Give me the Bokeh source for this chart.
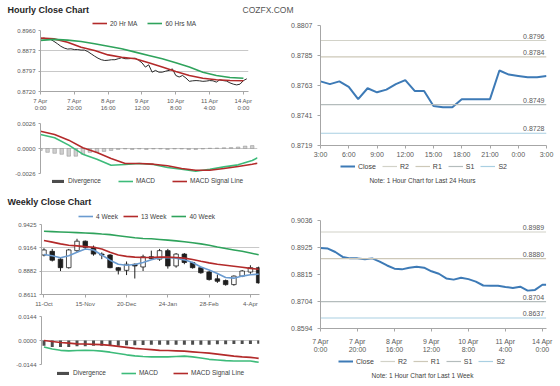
from bokeh.plotting import figure
from bokeh.models import Range1d, FixedTicker, Legend, LegendItem, Label
from bokeh.layouts import column, row
from bokeh.embed import file_html
from bokeh.resources import INLINE

FONT = "Liberation Sans"

# ---------------- DATA ----------------
# Hourly close chart (last week); x = trading hours since 7 Apr 0:00
hw_hours = list(range(0, 123, 2))
hw_close = [0.8927, 0.8930, 0.8927, 0.8925, 0.8917, 0.8908, 0.8898, 0.8891, 0.8887, 0.8888,
            0.8885, 0.8885, 0.8883, 0.8883, 0.8877, 0.8868, 0.8859, 0.8851, 0.8845, 0.8842,
            0.8843, 0.8845, 0.8845, 0.8849, 0.8853, 0.8849, 0.8849, 0.8850, 0.8851, 0.8843,
            0.8833, 0.8816, 0.8825, 0.8796, 0.8803, 0.8796, 0.8796, 0.8800, 0.8803, 0.8809,
            0.8783, 0.8777, 0.8783, 0.8773, 0.8760, 0.8762, 0.8763, 0.8762, 0.8760, 0.8761,
            0.8763, 0.8762, 0.8757, 0.8766, 0.8763, 0.8761, 0.8754, 0.8749, 0.8746, 0.8749,
            0.8763, 0.8770]
hw_ma_hours = [0, 8, 16, 24, 32, 40, 48, 56, 64, 72, 80, 88, 96, 104, 112, 120]
hw_ma20 = [0.8930, 0.8927, 0.8914, 0.8894, 0.8881, 0.8864, 0.8855, 0.8849, 0.8833, 0.8816,
           0.8799, 0.8783, 0.8772, 0.8766, 0.8763, 0.8762]
hw_ma60 = [0.8921, 0.8925, 0.8922, 0.8917, 0.8908, 0.8898, 0.8888, 0.8875, 0.8862, 0.8849,
           0.8833, 0.8816, 0.8796, 0.8783, 0.8775, 0.8772]
hw_x_ticks = [0, 20, 40, 60, 80, 100, 120]
hw_x_labels = ["7 Apr\n0:00", "7 Apr\n20:00", "8 Apr\n16:00", "9 Apr\n12:00",
               "10 Apr\n8:00", "11 Apr\n4:00", "14 Apr\n0:00"]
hw_y_ticks = [0.872, 0.88, 0.888, 0.896]
hw_y_labels = ["0.8720", "0.8797", "0.8873", "0.8960"]

# Hourly MACD
hm_hours = [0, 8, 16, 24, 32, 40, 48, 56, 64, 72, 80, 88, 96, 104, 112, 120, 123]
hm_macd = [0.00146, 0.00111, 0.00035, -0.00059, -0.00111, -0.00174, -0.00167, -0.00156, -0.00167,
           -0.00198, -0.00215, -0.00236, -0.00215, -0.00191, -0.00170, -0.00125, -0.00097]
hm_signal = [0.00180, 0.00146, 0.00087, 0.00007, -0.00042, -0.00104, -0.00156, -0.00156, -0.00163,
             -0.00180, -0.00208, -0.00226, -0.00226, -0.00208, -0.00187, -0.00163, -0.00153]
hm_div_hours = list(range(0, 121, 4))
hm_div = [-0.0002, -0.0004, -0.0005, -0.0006, -0.0008, -0.0008, -0.0006, -0.0004, -0.0004, -0.0003,
          -0.0002, -0.0001, -0.00005, -0.0001, -0.00005, -0.0001, -0.00005, -0.00005, -0.0001, -0.00005,
          -0.00005, -0.0001, -0.0001, -0.00005, 0.00003, 0.00005, 0.00008, 0.0001, 0.00015, 0.00025, 0.0003]
hm_y_ticks = [-0.0026, 0, 0.0026]
hm_y_labels = ["-0.0026", "0.0000", "0.0026"]

# Last 24 hours (1 hour chart)
d1_hours = list(range(25))
d1_close = [0.8766, 0.8764, 0.8766, 0.8762, 0.8753, 0.8761, 0.8758, 0.8760, 0.8764, 0.8767,
            0.8759, 0.8759, 0.8748, 0.8747, 0.8747, 0.8753, 0.8753, 0.8753, 0.8753, 0.8774,
            0.8771, 0.8770, 0.8769, 0.8769, 0.8770]
d1_x_ticks = [0, 3, 6, 9, 12, 15, 18, 21, 24]
d1_x_labels = ["3:00", "6:00", "9:00", "12:00", "15:00", "18:00", "21:00", "0:00", "3:00"]
d1_y_ticks = [0.8719, 0.8741, 0.8763, 0.8785, 0.8807]
level_names = ["R2", "R1", "S1", "S2"]
d1_levels = [0.8796, 0.8784, 0.8749, 0.8728]

# Weekly close chart (27 weeks)
wk_idx = list(range(27))
wk_open = [0.9070, 0.9113, 0.9022, 0.8923, 0.9121, 0.9231, 0.9160, 0.9081, 0.9070, 0.8923,
           0.8892, 0.8963, 0.8931, 0.9050, 0.9022, 0.9121, 0.8943, 0.9081, 0.8983, 0.8923,
           0.8872, 0.8793, 0.8773, 0.8726, 0.8825, 0.8872, 0.8923]
wk_close = [0.9129, 0.9010, 0.8923, 0.9129, 0.9231, 0.9160, 0.9081, 0.9070, 0.8923, 0.8892,
            0.8963, 0.8943, 0.9050, 0.9030, 0.9121, 0.8943, 0.9081, 0.8983, 0.8923, 0.8864,
            0.8785, 0.8765, 0.8726, 0.8825, 0.8884, 0.8923, 0.8746]
wk_high = [0.9149, 0.9141, 0.9034, 0.9141, 0.9259, 0.9239, 0.9180, 0.9101, 0.9081, 0.8931,
           0.8995, 0.8971, 0.9074, 0.9121, 0.9141, 0.9141, 0.9093, 0.9093, 0.8991, 0.8935,
           0.8884, 0.8844, 0.8785, 0.8833, 0.8896, 0.8951, 0.8935]
wk_low = [0.9054, 0.8995, 0.8884, 0.8912, 0.9101, 0.9141, 0.9062, 0.9022, 0.8916, 0.8844,
          0.8837, 0.8797, 0.8884, 0.9022, 0.9002, 0.8912, 0.8923, 0.8963, 0.8912, 0.8852,
          0.8773, 0.8746, 0.8714, 0.8714, 0.8813, 0.8852, 0.8738]
wk_ma4 = [0.9077, 0.9062, 0.9038, 0.9062, 0.9101, 0.9141, 0.9129, 0.9070, 0.9010, 0.8963,
          0.8951, 0.8959, 0.8983, 0.9014, 0.9038, 0.9042, 0.9034, 0.9014, 0.8983, 0.8931,
          0.8896, 0.8856, 0.8809, 0.8801, 0.8825, 0.8840, 0.8848]
wk_ma13 = [0.9239, 0.9220, 0.9200, 0.9184, 0.9176, 0.9168, 0.9160, 0.9141, 0.9101, 0.9070,
           0.9054, 0.9046, 0.9042, 0.9042, 0.9046, 0.9046, 0.9042, 0.9034, 0.9018, 0.8998,
           0.8979, 0.8963, 0.8951, 0.8939, 0.8927, 0.8915, 0.8904]
wk_ma40 = [0.9346, 0.9342, 0.9338, 0.9334, 0.9330, 0.9326, 0.9322, 0.9314, 0.9307, 0.9295,
           0.9283, 0.9271, 0.9263, 0.9259, 0.9251, 0.9243, 0.9235, 0.9224, 0.9212, 0.9200,
           0.9184, 0.9164, 0.9145, 0.9129, 0.9113, 0.9093, 0.9073]
wk_x_ticks = [0, 5, 10, 15, 20, 25]
wk_x_labels = ["11-Oct", "15-Nov", "20-Dec", "24-Jan", "28-Feb", "4-Apr"]
wk_y_ticks = [0.8611, 0.88823, 0.91537, 0.9425]
wk_y_labels = ["0.8611", "0.8882", "0.9164", "0.9425"]

# Weekly MACD
wk_macd = [-0.0039, -0.0051, -0.0059, -0.0062, -0.0060, -0.0059, -0.0060, -0.0064, -0.0070, -0.0078,
           -0.0086, -0.0092, -0.0096, -0.0098, -0.0098, -0.0098, -0.0096, -0.0094, -0.0098, -0.0105,
           -0.0113, -0.0117, -0.0121, -0.0123, -0.0123, -0.0123, -0.0131]
wk_signal = [0.0000, -0.0006, -0.0012, -0.0016, -0.0020, -0.0021, -0.0023, -0.0025, -0.0029, -0.0035,
             -0.0041, -0.0047, -0.0051, -0.0055, -0.0059, -0.0060, -0.0062, -0.0064, -0.0068, -0.0072,
             -0.0076, -0.0082, -0.0088, -0.0094, -0.0098, -0.0101, -0.0107]
wk_div = [-0.0031, -0.0039, -0.0039, -0.0039, -0.0035, -0.0035, -0.0031, -0.0031, -0.0031, -0.0031,
          -0.0029, -0.0029, -0.0027, -0.0025, -0.0025, -0.0025, -0.0025, -0.0025, -0.0025, -0.0025,
          -0.0025, -0.0023, -0.0023, -0.0021, -0.0021, -0.0021, -0.0020]
wm_y_ticks = [-0.0144, 0, 0.0144]
wm_y_labels = ["-0.0144", "0.0000", "0.0144"]

# Last week (1 hour chart)
w1_hours = [0, 4, 8, 12, 16, 20, 24, 28, 32, 36, 40, 44, 48, 52, 56, 60, 64, 68, 72, 76, 80,
            84, 88, 92, 96, 100, 104, 108, 112, 116, 120, 122]
w1_close = [0.8923, 0.8921, 0.8907, 0.8887, 0.8881, 0.8881, 0.8877, 0.8881, 0.8868, 0.8852,
            0.8839, 0.8836, 0.8843, 0.8847, 0.8843, 0.8828, 0.8818, 0.8799, 0.8794, 0.8802,
            0.8796, 0.8786, 0.8770, 0.8769, 0.8769, 0.8764, 0.8760, 0.8765, 0.8749, 0.8752,
            0.8773, 0.8773]
w1_y_ticks = [0.8594, 0.8704, 0.8815, 0.8925, 0.9036]
w1_levels = [0.8989, 0.8880, 0.8704, 0.8637]

# ---------------- STYLE ----------------
LEVEL_COLORS = ["#d2d2c8", "#cdc8b8", "#b4bcbc", "#a9cfe2"]
C_RED = "#b32a2a"
C_GREEN = "#2fa35c"
C_MACD = "#3dbb7a"
C_BLUE = "#3d7ab6"
C_WBLUE = "#6a9bd0"
C_DIV = "#4d4d4d"
AX = "#a6a6a6"
TXT = "#595959"
LW = 270   # left column width
RW = 286   # right column width


def mkfig(w, h, xr, yr, left, right, top, bottom, xaxis=True):
    p = figure(width=w, height=h, x_range=Range1d(*xr), y_range=Range1d(*yr),
               output_backend="svg", toolbar_location=None, title=None,
               x_axis_location="below" if xaxis else None,
               min_border_left=left, min_border_right=right,
               min_border_top=top, min_border_bottom=bottom)
    p.outline_line_color = None
    p.background_fill_color = "white"
    p.border_fill_color = "white"
    p.xgrid.visible = False
    p.ygrid.grid_line_color = "#c8c8c8"
    return p


def style_axis(ax, fs, ticks, labels, standoff, tick_out=3):
    ax.ticker = FixedTicker(ticks=ticks)
    ax.major_label_overrides = {t: l for t, l in zip(ticks, labels)}
    ax.axis_line_color = AX
    ax.major_tick_line_color = AX
    ax.minor_tick_line_color = None
    ax.major_tick_in = 0
    ax.major_tick_out = tick_out
    ax.major_label_text_font = FONT
    ax.major_label_text_font_size = fs
    ax.major_label_text_color = TXT
    ax.major_label_standoff = standoff


def text_fig(w, h):
    p = figure(width=w, height=h, x_range=Range1d(0, w), y_range=Range1d(0, h),
               output_backend="svg", toolbar_location=None, title=None,
               x_axis_location=None, y_axis_location=None, min_border=0)
    p.grid.visible = False
    p.outline_line_color = None
    p.background_fill_color = "white"
    p.border_fill_color = "white"
    return p


def legend_strip(w, h, specs, x, cy, fs, spacing):
    """A strip holding a horizontal legend; specs = (label, kind, colour).
    The key glyphs are legend proxies placed outside the strip's visible ranges."""
    s = text_fig(w, h)
    items = []
    for lab, kind, col in specs:
        if kind == "bar":
            r = s.vbar(x=[-50], top=[-50], bottom=[-60], width=1, fill_color=col, line_color=None)
        else:
            r = s.line([-60, -50], [-50, -50], line_color=col, line_width=kind)
        items.append(LegendItem(label=lab, renderers=[r]))
    lg = Legend(items=items, location=(x, h - cy - 4), orientation="horizontal",
                label_text_font=FONT, label_text_font_size=fs, label_text_color="#404040",
                glyph_width=15, glyph_height=4, label_height=8, label_width=0,
                label_standoff=3, spacing=spacing, padding=0, margin=0,
                border_line_color=None, background_fill_alpha=0)
    s.add_layout(lg, "center")
    return s


def sep_fig(w):
    p = figure(width=w, height=2, x_range=Range1d(0, 1), y_range=Range1d(0, 1),
               output_backend="svg", toolbar_location=None, title=None,
               x_axis_location=None, y_axis_location=None, min_border=0)
    p.grid.visible = False
    p.outline_line_color = None
    p.background_fill_color = "#cfcfcf"
    p.border_fill_color = "#cfcfcf"
    return p


# ---------------- HEADER 1 ----------------
h1 = text_fig(LW + RW, 16)
h1.add_layout(Label(x=7, y=6.5, text="Hourly Close Chart", text_font=FONT, text_font_size="9px",
                    text_font_style="bold", text_color="#262626", text_baseline="middle"))
h1.add_layout(Label(x=242, y=6.5, text="COZFX.COM", text_font=FONT, text_font_size="8.5px",
                    text_color="#555555", text_baseline="middle"))

# ---------------- HOURLY PRICE ----------------
hp_leg = legend_strip(LW, 11, [("20 Hr MA", 1.6, C_RED), ("60 Hrs MA", 1.6, C_GREEN)],
                      92, 7, "6.5px", 10)
hp = mkfig(LW, 87, (0, 123), (0.872, 0.896), 40, 22, 3, 23)
style_axis(hp.xaxis[0], "6px", hw_x_ticks, hw_x_labels, 3)
style_axis(hp.yaxis[0], "6px", hw_y_ticks, hw_y_labels, 3, 2)
hp.line(hw_hours, hw_close, line_color="#2b2b2b", line_width=1)
hp.line(hw_ma_hours, hw_ma20, line_color=C_RED, line_width=1.6)
hp.line(hw_ma_hours, hw_ma60, line_color=C_GREEN, line_width=1.6)

# ---------------- HOURLY MACD ----------------
hm = mkfig(LW, 62, (0, 123), (-0.0026, 0.0026), 40, 13, 9, 3, xaxis=False)
style_axis(hm.yaxis[0], "6px", hm_y_ticks, hm_y_labels, 3, 2)
hm.vbar(x=hm_div_hours, top=hm_div, bottom=0, width=2.0, fill_color="#d0d0d0",
        line_color="#8c8c8c", line_width=0.5)
hm.line(hm_hours, hm_macd, line_color=C_MACD, line_width=1.6)
hm.line(hm_hours, hm_signal, line_color=C_RED, line_width=1.6)
hm_leg = legend_strip(LW, 17, [("Divergence", "bar", C_DIV), ("MACD", 1.6, C_MACD),
                               ("MACD Signal Line", 1.6, C_RED)], 50, 4.5, "6.5px", 17)

# ---------------- LAST 24 HOURS ----------------
r1 = mkfig(RW, 144, (0, 24), (0.8719, 0.8807), 50, 10, 9, 15)
r1.ygrid.visible = False
style_axis(r1.xaxis[0], "7px", d1_x_ticks, d1_x_labels, 2)
style_axis(r1.yaxis[0], "7px", d1_y_ticks, [f"{t:.4f}" for t in d1_y_ticks], 5)
r1.line(d1_hours, d1_close, line_color=C_BLUE, line_width=2)
for lv, col in zip(d1_levels, LEVEL_COLORS):
    r1.line([d1_hours[0], d1_hours[-1]], [lv, lv], line_color=col, line_width=1.2)
    r1.add_layout(Label(x=d1_hours[-1], y=lv, text=f"{lv:.4f}", x_offset=-2, y_offset=2,
                        text_align="right", text_baseline="bottom", text_font=FONT,
                        text_font_size="7px", text_color=TXT))
r1_leg = legend_strip(RW, 33, [("Close", 2, C_BLUE)] +
                      [(n, 1.2, c) for n, c in zip(level_names, LEVEL_COLORS)],
                      70, 6, "7px", 6)
r1_leg.add_layout(Label(x=152, y=33 - 20, text="Note: 1 Hour Chart for Last 24 Hours",
                        text_align="center", text_baseline="middle", text_font=FONT,
                        text_font_size="6.5px", text_color="#404040"))

# ---------------- HEADER 2 ----------------
h2 = text_fig(LW, 13)
h2.add_layout(Label(x=7, y=6.3, text="Weekly Close Chart", text_font=FONT, text_font_size="9px",
                    text_font_style="bold", text_color="#262626", text_baseline="middle"))

# ---------------- WEEKLY PRICE ----------------
wp_leg = legend_strip(LW, 12, [("4 Week", 1.6, C_WBLUE), ("13 Week", 1.6, C_RED),
                               ("40 Week", 1.6, C_GREEN)], 78, 8, "6.5px", 5)
wp = mkfig(LW, 90, (-0.3, 26.1), (0.8611, 0.9425), 41, 11, 4, 16)
style_axis(wp.xaxis[0], "6px", wk_x_ticks, wk_x_labels, 3)
style_axis(wp.yaxis[0], "6px", wk_y_ticks, wk_y_labels, 3, 2)
body_top = [max(o, c) for o, c in zip(wk_open, wk_close)]
body_bot = [min(o, c) for o, c in zip(wk_open, wk_close)]
body_col = ["white" if c >= o else "#1e1e1e" for o, c in zip(wk_open, wk_close)]
wp.segment(x0=wk_idx, y0=wk_low, x1=wk_idx, y1=wk_high, line_color="#1e1e1e", line_width=1)
wp.vbar(x=wk_idx, top=body_top, bottom=body_bot, width=0.55, fill_color=body_col,
        line_color="#1e1e1e", line_width=0.8)
wp.line(wk_idx, wk_ma4, line_color=C_WBLUE, line_width=1.6)
wp.line(wk_idx, wk_ma13, line_color=C_RED, line_width=1.6)
wp.line(wk_idx, wk_ma40, line_color=C_GREEN, line_width=1.6)

# ---------------- WEEKLY MACD ----------------
wm = mkfig(LW, 58, (-0.3, 26.1), (-0.0144, 0.0144), 41, 11, 6, 4, xaxis=False)
style_axis(wm.yaxis[0], "6px", wm_y_ticks, wm_y_labels, 3, 2)
wm.vbar(x=wk_idx, top=0, bottom=wk_div, width=0.36, fill_color=C_DIV, line_color=None)
wm.line(wk_idx, wk_macd, line_color=C_MACD, line_width=1.6)
wm.line(wk_idx, wk_signal, line_color=C_RED, line_width=1.6)
wm_leg = legend_strip(LW, 12, [("Divergence", "bar", C_DIV), ("MACD", 1.6, C_MACD),
                               ("MACD Signal Line", 1.6, C_RED)], 55, 4.7, "6.5px", 15)

# ---------------- LAST WEEK (1 hour) ----------------
r2 = mkfig(RW, 160, (0, 122.2), (0.8594, 0.9036), 50, 10, 25, 26)
r2.ygrid.visible = False
style_axis(r2.xaxis[0], "7px", hw_x_ticks, hw_x_labels, 6)
style_axis(r2.yaxis[0], "7px", w1_y_ticks, [f"{t:.4f}" for t in w1_y_ticks], 5)
r2.line(w1_hours, w1_close, line_color=C_BLUE, line_width=2)
for lv, col in zip(w1_levels, LEVEL_COLORS):
    r2.line([w1_hours[0], w1_hours[-1]], [lv, lv], line_color=col, line_width=1.2)
    r2.add_layout(Label(x=w1_hours[-1], y=lv, text=f"{lv:.4f}", x_offset=-2, y_offset=2,
                        text_align="right", text_baseline="bottom", text_font=FONT,
                        text_font_size="7px", text_color=TXT))
r2_leg = legend_strip(RW, 25, [("Close", 2, C_BLUE)] +
                      [(n, 1.2, c) for n, c in zip(level_names, LEVEL_COLORS)],
                      68, 6, "7px", 6)
r2_leg.add_layout(Label(x=152, y=25 - 20, text="Note: 1 Hour Chart for Last 1 Week",
                        text_align="center", text_baseline="middle", text_font=FONT,
                        text_font_size="6.5px", text_color="#404040"))

# each plot wrapped in its own row so that frames are not aligned across a column
top_left = column(row(hp_leg), row(hp), row(hm), row(hm_leg))
top_right = column(row(r1), row(r1_leg))
bot_left = column(row(h2), row(wp_leg), row(wp), row(wm), row(wm_leg))
bot_right = column(row(r2), row(r2_leg))

layout = column(
    h1,
    row(top_left, top_right),
    sep_fig(LW + RW),
    row(bot_left, bot_right),
    sep_fig(LW + RW),
)

open("out.html", "w").write(file_html(layout, INLINE))
